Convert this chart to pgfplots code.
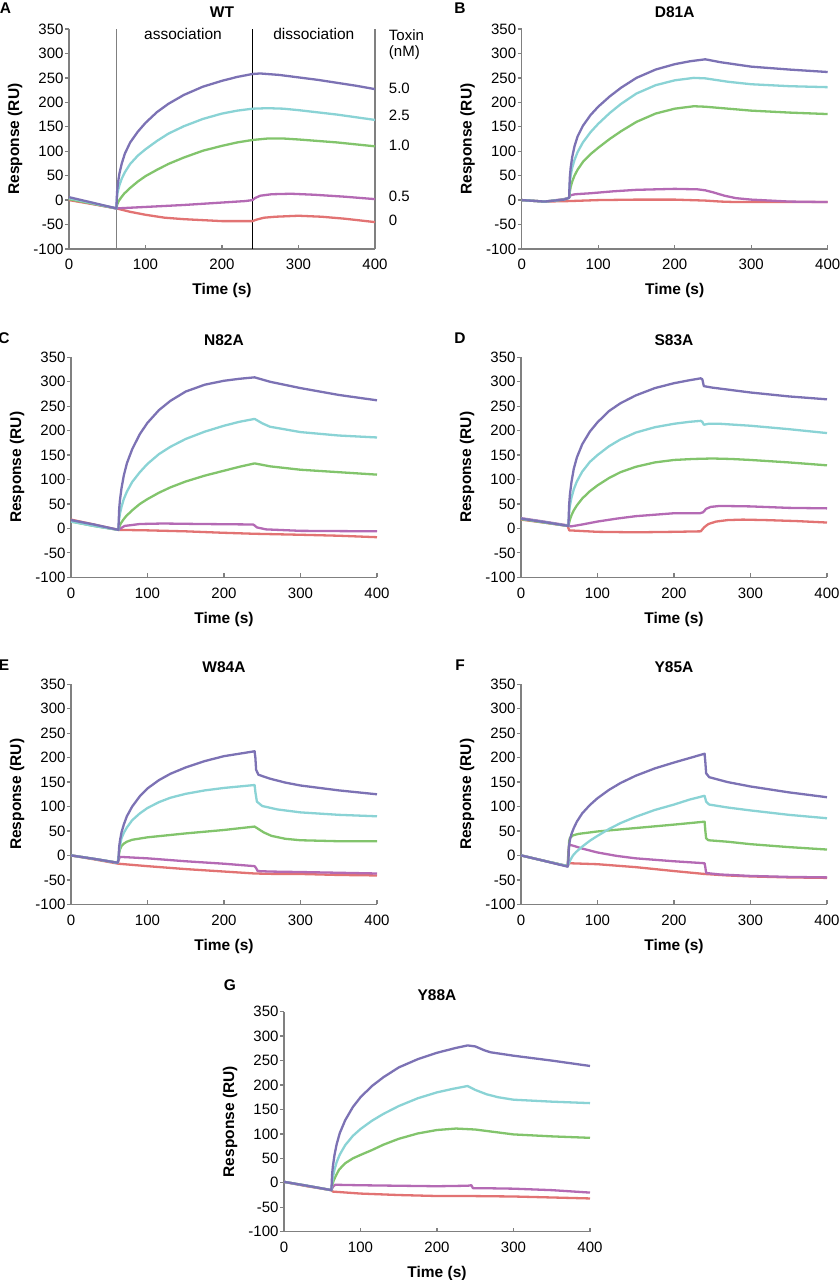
\documentclass[border=0pt]{standalone}
\usepackage{pgfplots}
\pgfplotsset{compat=1.18}
\usepackage{fontspec}
\setmainfont{Liberation Sans}
\definecolor{cP}{RGB}{124,114,180}
\definecolor{cC}{RGB}{138,211,213}
\definecolor{cG}{RGB}{130,196,108}
\definecolor{cM}{RGB}{180,106,180}
\definecolor{cR}{RGB}{226,115,115}
\definecolor{axgray}{RGB}{128,128,128}
\newcommand{\lblfont}{\bfseries\fontsize{15.5}{18}\selectfont}
\pgfplotsset{
  spr/.style={
    scale only axis, width=306pt, height=220pt,
    xmin=0, xmax=400, ymin=-100, ymax=350,
    axis lines=left,
    axis line style={-, draw=axgray, line width=1.3pt},
    tick align=inside,
    major tick length=4pt,
    tick style={draw=axgray, line width=1.3pt},
    every major y tick/.append style={xshift=-4pt},
    xtick={0,100,200,300,400},
    xticklabels={0,100,200,300,400},
    ytick={-100,-50,0,50,100,150,200,250,300,350},
    yticklabels={-100,-50,0,50,100,150,200,250,300,350},
    tick label style={font=\fontsize{15}{18}\selectfont, text=black},
    xticklabel style={yshift=-7pt},
    yticklabel style={xshift=-2pt},
    xlabel={Time (s)}, ylabel={Response (RU)},
    every axis x label/.style={at={(axis description cs:0.5,0)}, yshift=-42pt, anchor=center, font=\lblfont},
    every axis y label/.style={at={(axis description cs:0,0.5)}, xshift=-54pt, rotate=90, anchor=center, font=\lblfont},
    every axis title/.style={at={(axis description cs:0.5,1)}, yshift=17pt, anchor=center, font=\lblfont},
    clip=false,
    every axis plot/.append style={line width=2.3pt, line join=round},
  }
}
\begin{document}
\begin{tikzpicture}
\useasboundingbox (0,0) rectangle (840pt,1280pt);
% panel letters
\node[font=\lblfont] at (5.5pt,1271.7pt) {A};
\node[font=\lblfont] at (460pt,1271.7pt) {B};
\node[font=\lblfont] at (4pt,942pt) {C};
\node[font=\lblfont] at (460pt,942pt) {D};
\node[font=\lblfont] at (4pt,615pt) {E};
\node[font=\lblfont] at (460pt,615pt) {F};
\node[font=\lblfont] at (230pt,295pt) {G};

% ---------- A: WT ----------
\begin{axis}[spr, at={(69pt,1031pt)}, anchor=south west, title={WT}]
\addplot[axgray, line width=1.3pt] coordinates {(62,-100)(62,350)};
\addplot[black, line width=1.1pt] coordinates {(240,-100)(240,350)};
\addplot[axgray, line width=1.3pt] coordinates {(400,-100)(400,350)};
\addplot[cR] coordinates {(0,0)(30,-8)(62,-17)(80,-24)(100,-30)(125,-36)(150,-39)(175,-41)(200,-43)(240,-43)(245,-40)(255,-36)(270,-34)(300,-32)(330,-34)(360,-38)(400,-45)};
\addplot[cM] coordinates {(0,3)(30,-7)(62,-17)(100,-14)(150,-10)(200,-5)(230,-2)(240,0)(243,4)(250,9)(265,12)(290,13)(320,11)(360,7)(400,2)};
\addplot[cG] coordinates {(0,2)(30,-7)(62,-17)(63,-9)(65,-2)(68,5)(72,13)(80,25)(90,38)(100,49)(115,62)(130,74)(150,87)(175,101)(200,111)(220,118)(240,123)(260,126)(280,126)(300,124)(350,118)(400,110)};
\addplot[cC] coordinates {(0,4)(30,-6)(62,-17)(62.5,0)(63,10)(64,19)(66,31)(69,44)(73,57)(80,74)(90,91)(100,104)(115,121)(130,136)(150,151)(175,166)(200,177)(220,183)(240,187)(260,188)(280,187)(300,184)(350,175)(400,164)};
\addplot[cP] coordinates {(0,6)(30,-5)(62,-17)(62.5,5)(63,20)(64,35)(66,55)(69,75)(73,95)(80,118)(90,140)(100,158)(115,180)(130,197)(150,215)(175,232)(200,244)(220,252)(240,258)(250,259)(275,256)(300,251)(325,246)(350,240)(375,234)(400,227)};
\node[font=\fontsize{15.5}{18}\selectfont] at (axis cs:149,340) {association};
\node[font=\fontsize{15.5}{18}\selectfont] at (axis cs:320,340) {dissociation};
\node[font=\fontsize{15}{18}\selectfont, anchor=west, inner sep=0pt] at (axis cs:418,338) {Toxin};
\node[font=\fontsize{15}{18}\selectfont, anchor=west, inner sep=0pt] at (axis cs:418,301) {(nM)};
\node[font=\fontsize{15}{18}\selectfont, anchor=west, inner sep=0pt] at (axis cs:418,229) {5.0};
\node[font=\fontsize{15}{18}\selectfont, anchor=west, inner sep=0pt] at (axis cs:418,173) {2.5};
\node[font=\fontsize{15}{18}\selectfont, anchor=west, inner sep=0pt] at (axis cs:418,111) {1.0};
\node[font=\fontsize{15}{18}\selectfont, anchor=west, inner sep=0pt] at (axis cs:418,8) {0.5};
\node[font=\fontsize{15}{18}\selectfont, anchor=west, inner sep=0pt] at (axis cs:418,-41) {0};
\end{axis}

% ---------- B: D81A ----------
\begin{axis}[spr, at={(521.7pt,1031pt)}, anchor=south west, title={D81A}]
\addplot[cR] coordinates {(0,0)(30,-3)(62,-2)(100,0)(150,1)(200,1)(240,-1)(260,-3)(280,-4)(350,-4)(400,-4)};
\addplot[cM] coordinates {(0,0)(30,-3)(55,2)(62,5)(64,10)(70,12)(90,14)(120,18)(150,21)(200,23)(230,22)(240,20)(250,16)(265,9)(280,4)(300,1)(350,-3)(400,-4)};
\addplot[cG] coordinates {(0,0)(30,-3)(55,1)(62,5)(63,18)(64,27)(66,38)(69,50)(73,62)(80,78)(90,94)(100,107)(115,125)(130,141)(150,160)(175,177)(200,187)(225,192)(240,191)(270,187)(300,183)(350,179)(400,176)};
\addplot[cC] coordinates {(0,0)(30,-3)(55,1)(62,5)(62.5,22)(63,35)(64,50)(66,66)(69,82)(73,98)(80,118)(90,139)(100,156)(115,178)(130,197)(150,218)(175,235)(200,245)(225,250)(240,249)(270,242)(300,237)(350,233)(400,231)};
\addplot[cP] coordinates {(0,0)(30,-3)(55,1)(61,4)(62,5)(62.5,30)(63,48)(64,66)(66,88)(69,110)(73,130)(80,152)(90,174)(100,191)(115,212)(130,230)(150,250)(175,267)(200,278)(220,284)(240,288)(260,282)(300,273)(350,267)(400,262)};
\end{axis}

% ---------- C: N82A ----------
\begin{axis}[spr, at={(71pt,702.7pt)}, anchor=south west, title={N82A}]
\addplot[cR] coordinates {(0,18)(30,8)(62,-3)(100,-4)(150,-6)(200,-9)(240,-11)(300,-13)(350,-15)(400,-18)};
\addplot[cM] coordinates {(0,16)(30,6)(62,-3)(70,5)(90,9)(120,10)(170,9)(238,8)(240,6)(243,2)(255,-2)(300,-5)(400,-6)};
\addplot[cG] coordinates {(0,14)(30,5)(62,-3)(63,3)(65,10)(68,17)(72,25)(80,37)(90,50)(100,60)(115,73)(130,84)(150,96)(175,108)(200,118)(220,126)(240,133)(260,127)(300,120)(350,115)(400,110)};
\addplot[cC] coordinates {(0,14)(30,5)(62,-3)(62.5,10)(63,20)(64,30)(66,44)(69,60)(73,75)(80,95)(90,115)(100,132)(115,152)(130,167)(150,183)(175,198)(200,210)(220,218)(240,224)(250,215)(260,208)(300,197)(350,190)(400,186)};
\addplot[cP] coordinates {(0,17)(30,8)(62,-3)(62.5,20)(63,40)(64,58)(66,82)(69,108)(73,133)(80,162)(90,193)(100,216)(115,242)(130,261)(150,280)(175,294)(200,302)(220,306)(240,309)(260,300)(300,287)(350,273)(400,262)};
\end{axis}

% ---------- D: S83A ----------
\begin{axis}[spr, at={(521pt,702.7pt)}, anchor=south west, title={S83A}]
\addplot[cR] coordinates {(0,18)(30,12)(61,5)(63,-4)(100,-7)(150,-8)(200,-7)(235,-6)(237,-2)(240,3)(245,9)(255,14)(270,17)(290,18)(320,17)(360,15)(400,12)};
\addplot[cM] coordinates {(0,21)(30,14)(62,6)(65,4)(80,8)(100,14)(125,20)(150,25)(175,28)(200,31)(234,31)(238,33)(242,40)(248,44)(260,46)(300,45)(350,42)(400,41)};
\addplot[cG] coordinates {(0,19)(30,12)(62,5)(63,12)(64,18)(66,27)(69,37)(73,47)(80,61)(90,76)(100,88)(115,103)(130,115)(150,126)(175,135)(200,140)(225,142)(250,143)(275,142)(300,140)(350,135)(400,129)};
\addplot[cC] coordinates {(0,20)(30,13)(62,5)(62.5,20)(63,35)(64,47)(66,63)(69,80)(73,96)(80,116)(90,136)(100,150)(115,168)(130,182)(150,196)(175,207)(200,214)(220,218)(235,220)(237,218)(239,212)(245,214)(260,214)(300,210)(350,203)(400,195)};
\addplot[cP] coordinates {(0,20)(30,13)(62,5)(62.5,30)(63,50)(64,70)(66,95)(69,122)(73,145)(80,172)(90,198)(100,217)(115,240)(130,256)(150,272)(175,287)(200,297)(220,303)(235,307)(237,305)(239,291)(250,288)(300,278)(350,270)(400,264)};
\end{axis}

% ---------- E: W84A ----------
\begin{axis}[spr, at={(71pt,375.7pt)}, anchor=south west, title={W84A}]
\addplot[cR] coordinates {(0,0)(30,-8)(62,-17)(100,-22)(150,-28)(200,-33)(240,-37)(270,-38)(300,-38)(350,-40)(400,-41)};
\addplot[cM] coordinates {(0,0)(30,-7)(61,-15)(62,-10)(64,-3)(100,-6)(150,-12)(200,-17)(240,-22)(242,-26)(244,-32)(260,-33)(300,-34)(400,-37)};
\addplot[cG] coordinates {(0,0)(30,-7)(61,-15)(62,-5)(63,5)(64,12)(66,19)(69,24)(73,28)(80,32)(100,37)(150,45)(200,52)(240,59)(244,55)(252,47)(262,40)(280,34)(300,31)(350,29)(400,29)};
\addplot[cC] coordinates {(0,0)(30,-7)(61,-15)(62.5,0)(63,10)(64,20)(66,35)(69,46)(73,57)(80,72)(90,86)(100,97)(115,109)(130,118)(150,126)(175,133)(200,138)(220,141)(240,144)(241,130)(243,110)(250,101)(270,94)(300,88)(350,83)(400,80)};
\addplot[cP] coordinates {(0,0)(30,-7)(61,-15)(62,-10)(62.5,5)(63,18)(64,30)(66,47)(69,63)(73,80)(80,100)(90,121)(100,137)(115,154)(130,167)(150,180)(175,193)(200,203)(220,208)(240,213)(241,200)(242,175)(245,165)(260,157)(280,149)(300,143)(350,133)(400,125)};
\end{axis}

% ---------- F: Y85A ----------
\begin{axis}[spr, at={(521pt,375.7pt)}, anchor=south west, title={Y85A}]
\addplot[cR] coordinates {(0,0)(30,-11)(61,-22)(63,-16)(100,-18)(150,-24)(200,-32)(240,-38)(270,-41)(300,-43)(350,-45)(400,-46)};
\addplot[cM] coordinates {(0,0)(30,-11)(61,-22)(62,10)(63,22)(70,19)(80,14)(100,6)(125,-1)(150,-6)(175,-9)(200,-12)(240,-16)(241,-25)(242,-36)(260,-39)(300,-42)(350,-44)(400,-45)};
\addplot[cG] coordinates {(0,0)(30,-11)(61,-22)(62,0)(63,30)(64,36)(68,41)(75,44)(90,47)(100,49)(150,56)(200,63)(240,69)(241,50)(242,35)(245,31)(270,28)(300,23)(350,17)(400,12)};
\addplot[cC] coordinates {(0,0)(30,-11)(61,-22)(63,-15)(65,-8)(68,0)(72,7)(80,18)(90,30)(100,40)(115,54)(130,66)(150,79)(175,93)(200,104)(220,114)(240,122)(242,110)(246,104)(270,98)(300,92)(350,83)(400,76)};
\addplot[cP] coordinates {(0,0)(30,-11)(61,-23)(62,-10)(62.5,10)(63,22)(64,32)(66,44)(69,56)(73,69)(80,86)(90,103)(100,117)(115,134)(130,148)(150,163)(175,178)(200,190)(220,199)(240,208)(241,190)(242,168)(246,160)(270,150)(300,141)(350,129)(400,119)};
\end{axis}

% ---------- G: Y88A ----------
\begin{axis}[spr, at={(284pt,48.3pt)}, anchor=south west, title={Y88A}]
\addplot[cR] coordinates {(0,2)(30,-7)(62,-15)(64,-18)(100,-22)(150,-25)(200,-27)(240,-27)(300,-28)(350,-30)(400,-32)};
\addplot[cM] coordinates {(0,2)(30,-6)(62,-15)(64,-8)(67,-4)(100,-5)(150,-6)(200,-7)(240,-6)(245,-5)(247,-11)(260,-11)(300,-12)(350,-15)(400,-20)};
\addplot[cG] coordinates {(0,2)(30,-6)(62,-15)(63,-5)(65,5)(68,15)(72,27)(80,40)(90,50)(100,57)(115,67)(130,78)(150,90)(175,101)(200,108)(225,111)(250,109)(275,104)(300,99)(350,95)(400,92)};
\addplot[cC] coordinates {(0,2)(30,-6)(62,-15)(63,0)(64,12)(66,27)(69,43)(73,58)(80,77)(90,96)(100,110)(115,127)(130,141)(150,157)(175,173)(200,185)(220,192)(240,198)(250,190)(265,181)(280,175)(300,170)(350,166)(400,163)};
\addplot[cP] coordinates {(0,2)(30,-6)(62,-15)(62.5,5)(63,20)(64,35)(66,57)(69,80)(73,102)(80,128)(90,155)(100,175)(115,198)(130,216)(150,236)(175,253)(200,266)(225,276)(240,281)(250,279)(262,271)(270,267)(300,260)(350,250)(400,239)};
\end{axis}
\end{tikzpicture}
\end{document}
